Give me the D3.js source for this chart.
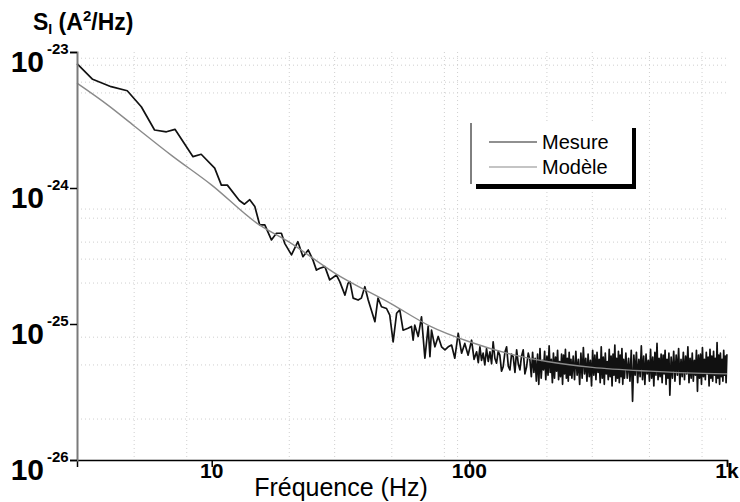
<!DOCTYPE html>
<html><head><meta charset="utf-8">
<script src="https://cdn.jsdelivr.net/npm/d3@7"></script>
<style>body{margin:0;background:#fff}svg{display:block}text{font-family:"Liberation Sans",Arial,sans-serif}</style>
</head><body><svg id="c" width="740" height="502"></svg>
<script>
// Values in units of 1e-26 A^2/Hz
const measFreqLow = [3.0,3.45,4.07,4.7,5.33,6.0,6.67,7.2,8.46,9.1,10.27,10.9,11.5,12.8,13.4,14.05,14.7,15.36,16.07,17.05,17.83,18.64,19.2,20.4,21.6,22.6,23.7,24.7,25.5,26.3,27.5,28.7,30.5,31.4,32.9,33.8,34.4,35.4,37.0,38.1,39.3,40.5,43.0,44.2,45.6,47.7,49.1,50.6,52.2,53.7,55.3,57.8,59.6,60.5,61.4,63.3,65.2,67.2,69.2,70.3,71.3,73.5,75.7,78.0,80.4,82.8,85.3,87.8,90.5,93.3,96.0,98.9,102,104.3,106.7,108.3,109.9,111.5,113.1,114.8,116.6,118.4,120.2,122,123.7,125.6,127.5,129.4,131.3,133.3,135.3,137.4,139.5,141.6,143.7,145.8,148,150.3,152.6,154.8,157.1,159.4,161.8,164.3,166.8,169.3,171.8];
const measValLow = [820,630,556,519,396,267,259,270,170,177,140,105,105,81,76,82,73,53.5,53.5,41.5,46.5,46.5,39.2,32.2,40.3,31.3,35.0,29.6,24.9,25.7,26.4,21.1,22.9,20.5,16.3,19.9,20.5,15.5,15.0,15.5,18.8,15.0,10.4,15.5,13.4,13.0,11.6,7.4,12.0,12.7,9.0,9.3,9.6,7.6,9.8,8.1,11.3,5.6,9.6,5.75,9.0,6.8,8.1,6.8,6.45,6.8,7.0,5.6,8.55,6.1,7.2,5.9,7.6,5.5,6.25,5.2,6.8,5.4,6.1,5.0,6.6,5.3,6.25,5.1,7.4,5.6,5.15,6.3,5.9,4.5,4.85,6.2,6.8,4.9,4.6,6.0,5.75,4.4,6.45,5.1,4.6,5.8,6.45,4.3,4.85,6.1,5.45];
const measFreqA = [174,176,178,180,182,184,186,188,190,192,194,196,198,200,202,204,206,208,210,212,214,216,218,220,222,224,226,228,230,232,234,236,238,240,242,244,246,248,250];
const measValA = [4.1,6.2,4.4,5.6,3.8,6.0,3.6,6.6,4.0,5.4,4.6,6.3,3.9,5.8,4.2,6.9,4.4,5.5,3.7,6.1,4.0,5.7,4.5,6.4,3.9,5.3,4.1,6.0,3.6,5.9,4.3,6.5,4.0,5.6,3.8,6.2,4.2,5.5,4.0];
const measFreqB = [253,256,259,262,265,268,271,274,277,280,283,286,289,292,295,298,301,304,307,310,313,316,319,322,325,328,331,334,337,340,343,346,349,352,355,358,361,364,367,370,373,376,379,382,385,388,391,394,397,400];
const measValB = [5.8,3.9,6.3,4.2,5.5,3.6,6.1,4.0,6.7,4.3,5.6,3.8,6.0,4.1,5.4,3.5,6.4,4.2,5.9,3.9,6.2,4.4,5.5,3.7,6.8,4.0,5.7,3.6,6.1,4.3,5.3,3.9,6.5,4.1,5.8,3.5,6.0,4.2,7.0,3.8,5.6,4.0,6.3,3.7,5.9,4.1,6.6,3.6,5.5,4.0];
const measFreqC = [405,410,415,420,425,430,435,440,445,450,455,460,465,470,475,480,485,490,495,500,505,510,515,520,525,530,535,540,545,550,555,560,565,570,575,580,585,590,595,600];
const measValC = [6.1,4.0,5.6,3.8,6.4,2.7,5.9,4.2,6.2,3.7,5.5,4.1,6.9,3.9,5.8,3.6,6.0,4.3,5.4,3.8,6.5,4.0,5.7,3.5,6.2,4.2,7.2,3.9,5.6,4.1,6.0,3.7,5.9,4.3,6.4,3.6,5.5,4.0,6.1,3.0];
const measFreqD = [607,614,621,628,635,642,649,656,663,670,677,684,691,698,705,712,719,726,733,740,747,754,761,768,775,782,789,796,803,810,817,824,831,838,845,852,859,866,873,880,887,894,901,908,915,922,929,936,943,950,957,964,971,978,985,992,999];
const measValD = [5.7,4.0,6.3,3.8,5.9,4.2,6.6,3.6,5.5,4.1,6.2,3.9,5.8,4.3,6.8,3.7,5.6,4.0,6.1,3.8,5.4,4.2,6.4,3.2,5.9,4.0,6.0,3.6,6.7,4.1,5.5,3.9,6.2,4.3,5.7,3.5,6.5,4.0,5.8,3.8,6.3,4.2,5.6,3.7,7.3,4.0,5.9,3.6,6.1,4.1,5.5,3.8,6.4,4.2,5.8,3.7,6.0];
const modelFreq = [3,4,5,7,10,15,20,30,50,70,100,150,200,300,500,700,1000];
const modelVal = [590,400,286,173,105,55,40,23.7,14,9.7,7.4,5.9,5.3,4.8,4.5,4.37,4.3];
const xMajor = [10,100,1000];
const xTickLabels = ["10","100","1k"];
const xMinor = [4,5,6,7,8,9,20,30,40,50,60,70,80,90,200,300,400,500,600,700,800,900];
const yMajor = [1,10,100,1000];
const yTickExps = ["-26","-25","-24","-23"];
const yMinor = [2,3,4,5,6,7,8,9,20,30,40,50,60,70,80,90,200,300,400,500,600,700,800,900];
const gridX = [5,8,20,30,50,80,90,200,300,500,800];
const gridY = [900,800,600,500,70,60,40,30,20,8,5,2];
const legendLabels = ["Mesure","Modèle"];

const svg = d3.select("#c");
const x = d3.scaleLog().domain([3,1000]).range([77,727]);
const y = d3.scaleLog().domain([1,1000]).range([460,52]);

// grid
const g = svg.append("g");
g.selectAll(".gx").data(gridX).join("line")
  .attr("x1",d=>x(d)).attr("x2",d=>x(d)).attr("y1",y(1000)).attr("y2",y(1))
  .attr("stroke","#cfcfcf").attr("stroke-dasharray","1,3");
g.selectAll(".gy").data(gridY).join("line")
  .attr("y1",d=>y(d)).attr("y2",d=>y(d)).attr("x1",x(3)).attr("x2",x(1000))
  .attr("stroke","#cfcfcf").attr("stroke-dasharray","1,3");

// measured
const meas = [];
[[measFreqLow,measValLow],[measFreqA,measValA],[measFreqB,measValB],[measFreqC,measValC],[measFreqD,measValD]]
  .forEach(([f,v])=>f.forEach((fi,i)=>meas.push([fi,v[i]])));
const line = d3.line().x(d=>x(d[0])).y(d=>y(d[1]));
svg.append("path").datum(meas).attr("d",line).attr("fill","none")
  .attr("stroke","#111").attr("stroke-width",1.7).attr("stroke-linejoin","round");
const model = modelFreq.map((f,i)=>[f,modelVal[i]]);
svg.append("path").datum(model).attr("d",line.curve(d3.curveMonotoneX)).attr("fill","none")
  .attr("stroke","#8a8a8a").attr("stroke-width",1.4);

// axes
const xa = svg.append("g").attr("transform",`translate(0,${y(1)})`);
xa.call(d3.axisBottom(x).tickValues(xMinor).tickSize(4).tickFormat(""));
xa.call(d3.axisBottom(x).tickValues(xMajor).tickSize(7).tickFormat(""));
xa.selectAll("path").attr("stroke","#000").attr("stroke-width",1.5);
xa.selectAll("line").attr("stroke","#000").attr("stroke-width",1.5);
const ya = svg.append("g").attr("transform",`translate(${x(3)},0)`);
ya.call(d3.axisLeft(y).tickValues(yMinor).tickSize(4).tickFormat(""));
ya.call(d3.axisLeft(y).tickValues(yMajor).tickSize(7).tickFormat(""));
ya.selectAll("path").attr("stroke","#7a7a7a").attr("stroke-width",2);
ya.selectAll("line").attr("stroke","#000").attr("stroke-width",1.5);

// tick labels
svg.selectAll(".xl").data(xMajor).join("text")
  .attr("x",d=>x(d)).attr("y",478).attr("text-anchor","middle")
  .attr("font-size",21).attr("font-weight","bold").text((d,i)=>xTickLabels[i]);
yMajor.forEach((d,i)=>{
  svg.append("text").attr("x",44).attr("y",y(d)+20).attr("text-anchor","end")
    .attr("font-size",30).attr("font-weight","bold").text("10");
  svg.append("text").attr("x",47).attr("y",y(d)+2)
    .attr("font-size",15).attr("font-weight","bold").text(yTickExps[i]);
});

// titles
svg.append("text").attr("x",341).attr("y",496).attr("text-anchor","middle")
  .attr("font-size",25).text("Fréquence (Hz)");
const t = svg.append("text").attr("x",33).attr("y",30).attr("font-size",23).attr("font-weight","bold");
t.append("tspan").text("S");
t.append("tspan").attr("font-size",14).attr("dy",4).text("I");
t.append("tspan").attr("dy",-4).text(" (A");
t.append("tspan").attr("font-size",15).attr("dy",-9).text("2");
t.append("tspan").attr("dy",9).text("/Hz)");

// legend
const lg = svg.append("g");
lg.append("rect").attr("x",476).attr("y",128).attr("width",160).attr("height",61).attr("fill","#000");
lg.append("rect").attr("x",471).attr("y",123).attr("width",161).attr("height",61).attr("fill","#fff");
lg.append("line").attr("x1",471).attr("x2",471).attr("y1",123).attr("y2",184).attr("stroke","#000").attr("stroke-width",1);
const legColors = ["#222","#8a8a8a"];
legendLabels.forEach((lab,i)=>{
  const yy = 142 + i*25;
  lg.append("line").attr("x1",489).attr("x2",537).attr("y1",yy).attr("y2",yy)
    .attr("stroke",legColors[i]).attr("stroke-width",1.2);
  lg.append("text").attr("x",542).attr("y",yy+7).attr("font-size",20).text(lab);
});
</script></body></html>
